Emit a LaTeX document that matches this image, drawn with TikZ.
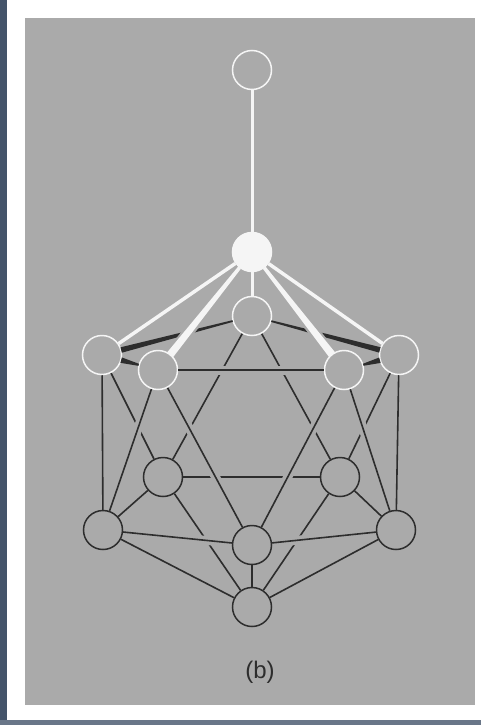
\documentclass[tikz,border=0pt]{standalone}
\usepackage{fontspec}
\setmainfont{Liberation Sans}
\usetikzlibrary{calc}
\definecolor{panel}{RGB}{170,170,170}
\definecolor{frame}{RGB}{68,84,106}
\definecolor{ink}{RGB}{45,45,45}
\colorlet{light}{white!96!black}
\tikzset{
  vtx/.style={circle,draw=ink,line width=1.5pt,minimum size=39pt,inner sep=0pt},
  uvtx/.style={vtx,draw=light},
  hubvtx/.style={vtx,draw=light,fill=light},
  edge/.style={draw=ink,line width=1.6pt},
  gap/.style={draw=panel,line width=9pt,shorten <=2pt,shorten >=2pt},
  spoke/.style={draw=light,line width=3pt},
  spokegap/.style={draw=panel,line width=11pt,shorten <=4pt,shorten >=4pt},
}
% tapered edge: colour, from, to, half angle at from, half angle at to
\newcommand{\taper}[5]{%
  \fill[#1] ($(#2)!20pt!#4:(#3)$) -- ($(#2)!20pt!-#4:(#3)$)
    -- ($(#3)!20pt!#5:(#2)$) -- ($(#3)!20pt!-#5:(#2)$) -- cycle;}
\begin{document}
\begin{tikzpicture}[x=1pt,y=-1pt]
  \useasboundingbox (0,0) rectangle (481,725);

  % ---------------- page
  \fill[white] (0,0) rectangle (481,725);
  \fill[frame] (0,0) rectangle (7,725);
  \fill[frame!80] (0,719.5) rectangle (481,725);
  \fill[panel] (25,18) rectangle (475,705);

  % ---------------- nodes
  \node[uvtx]   (T)   at (252,70)  {};
  \node[hubvtx] (H)   at (252,252) {};
  \node[uvtx]   (U0)  at (252,316) {};
  \node[uvtx]   (U1)  at (102,355) {};
  \node[uvtx]   (U2)  at (158,370) {};
  \node[uvtx]   (U3)  at (344,370) {};
  \node[uvtx]   (U4)  at (399,355) {};
  \node[vtx]    (L1)  at (163,477) {};
  \node[vtx]    (L2)  at (340,477) {};
  \node[vtx]    (B1)  at (103,530) {};
  \node[vtx]    (B2)  at (252,545) {};
  \node[vtx]    (B3)  at (396,530) {};
  \node[vtx]    (Bot) at (252,607) {};

  % ---------------- hidden edges
  \foreach \a/\b in {U0/L1,U0/L2,L1/L2,U1/L1,U4/L2,B1/L1,B3/L2,L1/Bot,L2/Bot}
    \draw[edge] (\a) -- (\b);

  % ---------------- front edges
  \foreach \a/\b in {U1/B1,U2/B1,U2/B2,U3/B2,U3/B3,U4/B3,B1/B2,B2/B3,B2/Bot,B1/Bot,B3/Bot,U2/U3}
    \draw[gap] (\a) -- (\b);
  \foreach \a/\b in {U1/B1,U2/B1,U2/B2,U3/B2,U3/B3,U4/B3,B1/B2,B2/B3,B2/Bot,B1/Bot,B3/Bot,U2/U3}
    \draw[edge] (\a) -- (\b);

  % ---------------- upper rim, thicker towards the outer vertices
  \taper{ink}{U1}{U0}{8}{2.5}
  \taper{ink}{U4}{U0}{8}{2.5}
  \taper{ink}{U1}{U2}{8}{3}
  \taper{ink}{U4}{U3}{8}{3}

  % ---------------- spokes
  \foreach \b in {U1,U2,U3,U4}
    \draw[spokegap] (H) -- (\b);
  \draw[spoke] (T) -- (H);
  \draw[spoke] (H) -- (U0);
  \draw[spoke,line width=3.5pt] (H) -- (U1);
  \draw[spoke,line width=3.5pt] (H) -- (U4);
  \taper{light}{H}{U2}{5}{11}
  \taper{light}{H}{U3}{5}{11}

  % ---------------- label
  \node[font=\fontsize{24}{28}\selectfont,text=ink] (lab) at (260,672) {(b)};
\end{tikzpicture}
\end{document}
